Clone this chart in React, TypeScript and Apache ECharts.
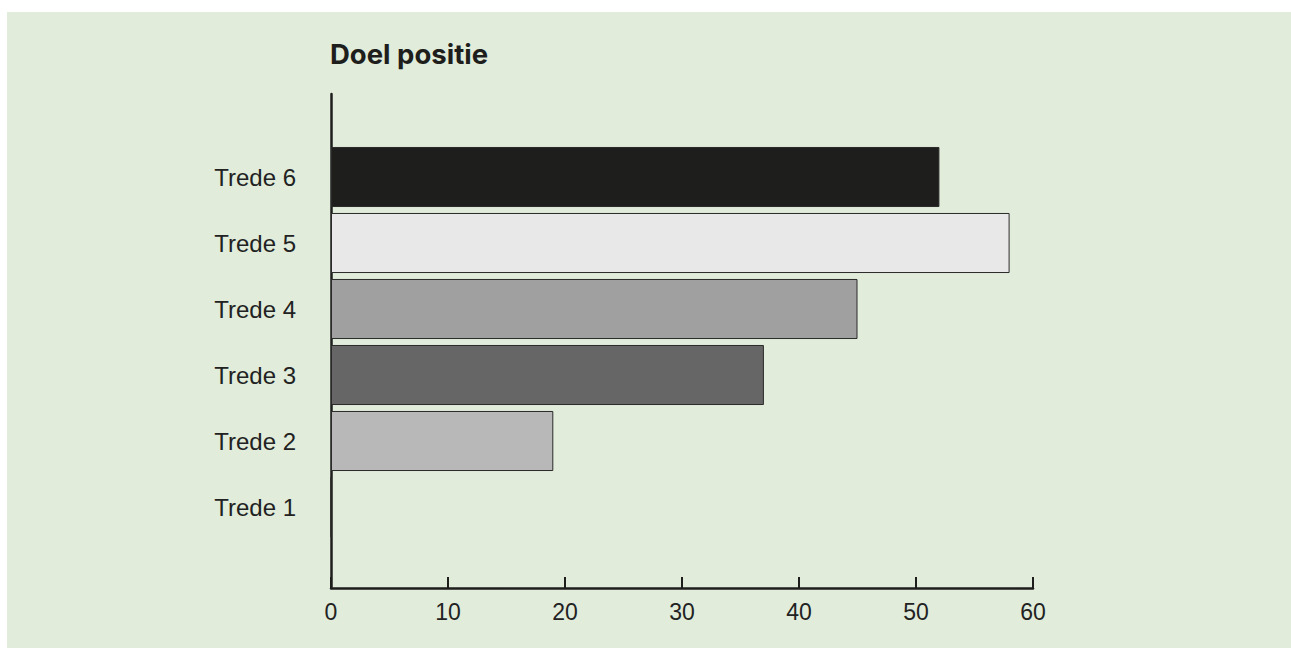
import React, { useEffect, useRef } from "react";
import * as echarts from "echarts";

const categories = ["Trede 1", "Trede 2", "Trede 3", "Trede 4", "Trede 5", "Trede 6"];
const values = [0, 19, 37, 45, 58, 52];
const barColors = ["#b8b8b8", "#b8b8b8", "#666666", "#a0a0a0", "#e8e8e8", "#1e1e1c"];
const xTicks = { min: 0, max: 60, interval: 10 };
const title = "Doel positie";

export default function App() {
  const ref = useRef<HTMLDivElement>(null);
  useEffect(() => {
    if (!ref.current) return;
    const chart = echarts.init(ref.current, null, { renderer: "svg" });
    const axisColor = "#1e1e1c";
    chart.setOption({
      animation: false,
      title: {
        text: title,
        left: 325,
        top: 35,
        textStyle: { fontFamily: "Inter", fontWeight: 700, fontSize: 27.5, color: "#1e1e1c", letterSpacing: -0.3 },
      },
      grid: [
        { left: 331, width: 702, top: 94, height: 494 },
        { left: 331, width: 702, top: 144, height: 396 },
      ],
      xAxis: [
        {
          type: "value",
          gridIndex: 0,
          min: xTicks.min,
          max: xTicks.max,
          interval: xTicks.interval,
          splitLine: { show: false },
          axisLine: { show: true, lineStyle: { color: axisColor, width: 2.5 } },
          axisTick: { show: true, inside: true, length: 11, lineStyle: { color: axisColor, width: 2 } },
          axisLabel: { color: "#222", fontFamily: "Liberation Sans", fontSize: 23, margin: 12 },
        },
        {
          type: "value",
          gridIndex: 1,
          min: xTicks.min,
          max: xTicks.max,
          show: false,
        },
      ],
      yAxis: [
        {
          type: "value",
          gridIndex: 0,
          min: 0,
          max: 1,
          splitLine: { show: false },
          axisLine: { show: true, lineStyle: { color: axisColor, width: 2.5 } },
          axisTick: { show: false },
          axisLabel: { show: false },
        },
        {
          type: "category",
          gridIndex: 1,
          data: categories,
          axisLine: { show: false },
          axisTick: { show: false },
          axisLabel: { color: "#222", fontFamily: "Liberation Sans", fontSize: 24, margin: 35 },
        },
      ],
      series: [
        {
          type: "bar",
          xAxisIndex: 1,
          yAxisIndex: 1,
          barCategoryGap: "9%",
          data: values.map((v, i) => ({
            value: v,
            itemStyle: { color: barColors[i], borderColor: "#2a2a2a", borderWidth: 1 },
          })),
        },
      ],
    });
    return () => chart.dispose();
  }, []);
  return (
    <div style={{ position: "fixed", left: 0, top: 0, width: 1291, height: 648, background: "#ffffff" }}>
      <div style={{ position: "absolute", left: 7, top: 12, right: 0, bottom: 0, background: "#e1ecda" }} />
      <div ref={ref} style={{ position: "absolute", left: 0, top: 0, width: 1291, height: 648 }} />
    </div>
  );
}
